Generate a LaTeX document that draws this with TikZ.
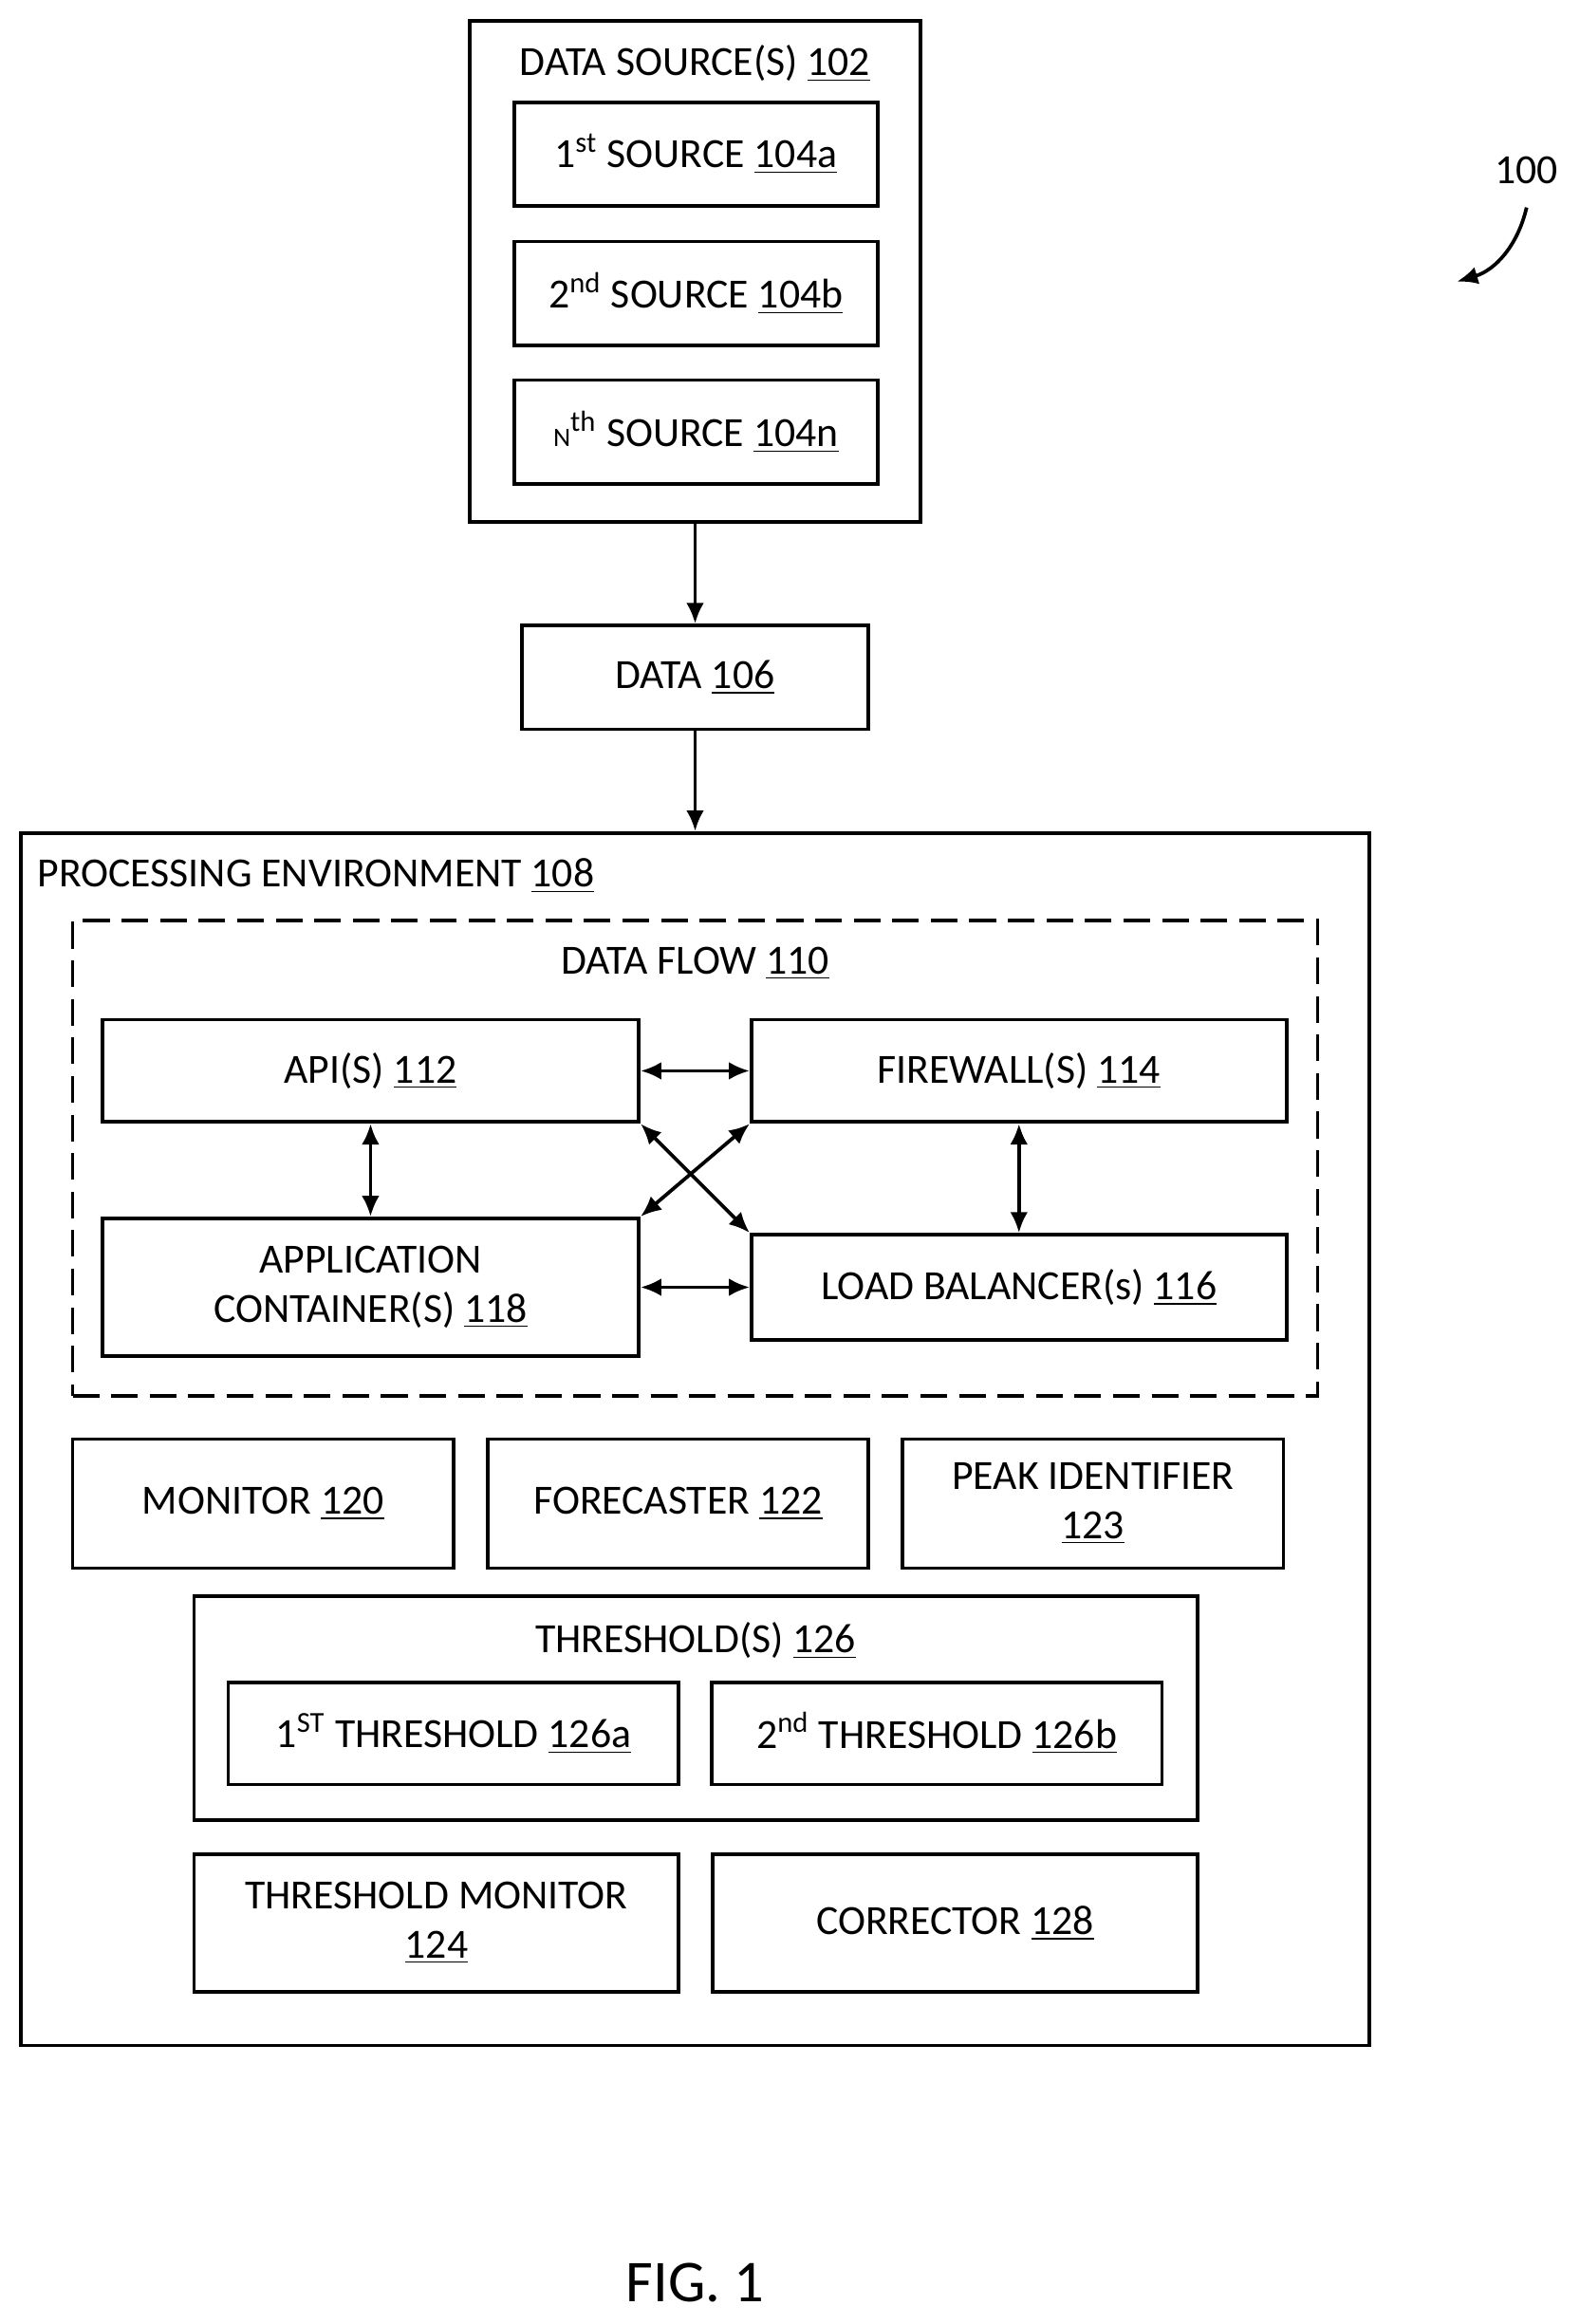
\documentclass[tikz,border=0pt]{standalone}
\usepackage{fontspec}
\setmainfont{Carlito}
\usetikzlibrary{arrows.meta, positioning}
\tikzset{>={Latex[length=7pt,width=6pt]}}
\tikzset{box/.style={draw, line width=1.2pt, align=center, inner sep=0pt},
         lbl/.style={inner sep=0pt, align=center}}
\begin{document}
\begin{tikzpicture}[x=0.5pt, y=-0.5pt, font=\fontsize{14}{16.5}\selectfont]
\useasboundingbox (0,0) rectangle (1065.5,1568);

% data sources
\node[box, minimum width=152pt, minimum height=169pt] (src) at (469,183) {};
\node[lbl] (srcl) at (469,43) {DATA SOURCE(S) \underline{102}};
\node[box, minimum width=122.5pt, minimum height=35pt] (s1) at (469.5,104) {1\textsuperscript{st} SOURCE \underline{104a}};
\node[box, minimum width=122.5pt, minimum height=35pt] (s2) at (469.5,198) {2\textsuperscript{nd} SOURCE \underline{104b}};
\node[box, minimum width=122.5pt, minimum height=35pt] (sn) at (469.5,291.5) {{\small N}\textsuperscript{th} SOURCE \underline{104n}};

\node[box, minimum width=117pt, minimum height=35pt] (data) at (469,457) {DATA \underline{106}};

% processing environment
\node[box, minimum width=455pt, minimum height=409pt] (env) at (469,971) {};
\node[lbl, anchor=west] (envl) at (25,591) {PROCESSING ENVIRONMENT \underline{108}};
\node[box, dashed, dash pattern=on 9pt off 4pt, minimum width=420pt, minimum height=160.5pt] (flow) at (469,781.5) {};
\node[lbl] (flowl) at (469,650) {DATA FLOW \underline{110}};

\node[box, minimum width=181pt, minimum height=34.5pt] (api) at (250,722.5) {API(S) \underline{112}};
\node[box, minimum width=180.5pt, minimum height=34.5pt] (fw) at (687.5,722.5) {FIREWALL(S) \underline{114}};
\node[box, minimum width=181pt, minimum height=46.5pt] (app) at (250,868.5) {APPLICATION\\CONTAINER(S) \underline{118}};
\node[box, minimum width=180.5pt, minimum height=35.5pt] (lb) at (687.5,868.5) {LOAD BALANCER(s) \underline{116}};

\draw[<->, line width=1.2pt] (api.east) -- (fw.west);
\draw[<->, line width=1.2pt] (api.south) -- (app.north);
\draw[<->, line width=1.2pt] (fw.south) -- (lb.north);
\draw[<->, line width=1.2pt] (app.east) -- (lb.west);
\draw[<->, line width=1.2pt] (api.south east) -- (lb.north west);
\draw[<->, line width=1.2pt] (app.north east) -- (fw.south west);

\node[box, minimum width=128.5pt, minimum height=43.5pt] (mon) at (177.5,1014.5) {MONITOR \underline{120}};
\node[box, minimum width=128.5pt, minimum height=43.5pt] (fc) at (457.5,1014.5) {FORECASTER \underline{122}};
\node[box, minimum width=128.5pt, minimum height=43.5pt] (pk) at (737.5,1014.5) {PEAK IDENTIFIER\\\underline{123}};

\node[box, minimum width=338.5pt, minimum height=75.5pt] (thr) at (469.5,1152.5) {};
\node[lbl] (thrl) at (469.5,1107) {THRESHOLD(S) \underline{126}};
\node[box, minimum width=152pt, minimum height=34.5pt] (t1) at (306,1169.5) {1\textsuperscript{ST} THRESHOLD \underline{126a}};
\node[box, minimum width=152pt, minimum height=34.5pt] (t2) at (632,1169.5) {2\textsuperscript{nd} THRESHOLD \underline{126b}};

\node[box, minimum width=163.5pt, minimum height=46.5pt] (tm) at (294.5,1297.5) {THRESHOLD MONITOR\\\underline{124}};
\node[box, minimum width=163.5pt, minimum height=46.5pt] (cor) at (644.5,1297.5) {CORRECTOR \underline{128}};

% connections
\draw[->, line width=1.2pt] (src.south) -- (data.north);
\draw[->, line width=1.2pt] (data.south) -- (env.north);

% reference number
\node[lbl] (ref) at (1030,115) {100};
\coordinate (refend) at (983,190);
\draw[->, line width=1.2pt] (1030,140) to[bend left=30] (refend);

\node[lbl, font=\fontsize{20}{23}\selectfont] (fig) at (469,1540) {FIG. 1};
\end{tikzpicture}
\end{document}
